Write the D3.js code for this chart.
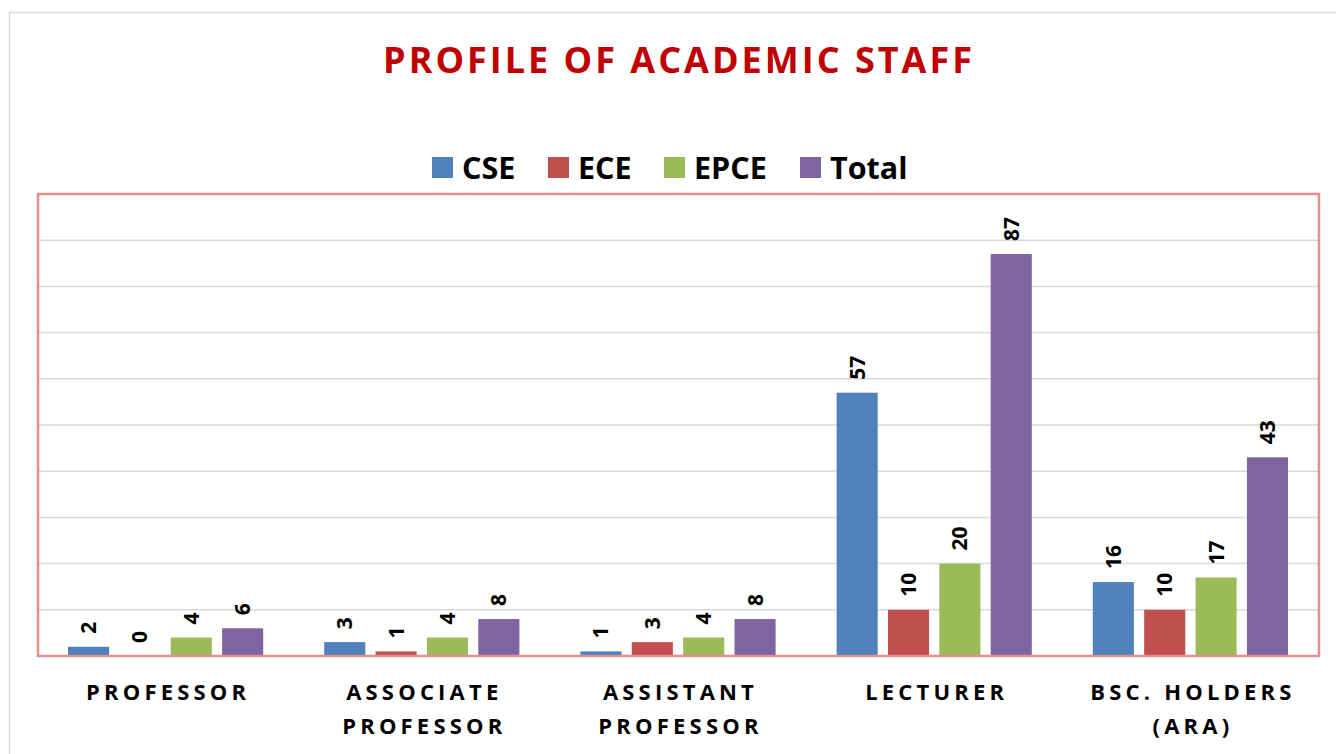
<!DOCTYPE html>
<html><head><meta charset="utf-8">
<script src="https://cdn.jsdelivr.net/npm/d3@7/dist/d3.min.js"></script>
<style>body{margin:0;background:#fff}svg{display:block}text{font-family:"Open Sans",sans-serif}</style>
</head><body><svg id="c" width="1336" height="754"></svg>
<script>
const categories = [["PROFESSOR"],["ASSOCIATE","PROFESSOR"],["ASSISTANT","PROFESSOR"],["LECTURER"],["BSC. HOLDERS","(ARA)"]];
const series = ["CSE","ECE","EPCE","Total"];
const cse = [2,3,1,57,16];
const ece = [0,1,3,10,10];
const epce = [4,4,4,20,17];
const total = [6,8,8,87,43];
const yTicks = [0,10,20,30,40,50,60,70,80,90,100];
const colors = ["#4F81BD","#C0504D","#9BBB59","#8064A2"];
const values = [cse, ece, epce, total];

const svg = d3.select("#c");
const L = 38, R = 1319, T = 194, B = 656;
svg.append("rect").attr("x",9.5).attr("y",12.5).attr("width",1340).attr("height",760).attr("fill","none").attr("stroke","#d9d9d9").attr("stroke-width",1.5);

const x0 = d3.scaleBand().domain(d3.range(categories.length)).range([L,R]).paddingInner(0).paddingOuter(0);
const x1 = d3.scaleBand().domain(series).range([30, x0.bandwidth()-31]).paddingInner(0.2).paddingOuter(0);
const y = d3.scaleLinear().domain([0,100]).range([B,T]);

// gridlines
svg.append("g").selectAll("line").data(yTicks.slice(1,-1)).join("line")
  .attr("x1",L).attr("x2",R).attr("y1",d=>y(d)).attr("y2",d=>y(d))
  .attr("stroke","#d9d9d9").attr("stroke-width",1.5);

// bars
const g = svg.append("g");
categories.forEach((c,i)=>{
  series.forEach((s,j)=>{
    const v = values[j][i];
    const bx = x0(i)+x1(s);
    if (v>0) g.append("rect").attr("x",bx).attr("y",y(v)).attr("width",x1.bandwidth()).attr("height",B-y(v)).attr("fill",colors[j]);
    g.append("text").attr("transform",`translate(${bx+x1.bandwidth()/2+7.5},${y(v)-13}) rotate(-90)`)
      .attr("font-size",21).attr("font-weight",700).attr("fill","#000").text(v);
  });
});

// plot border
svg.append("rect").attr("x",L).attr("y",T).attr("width",R-L).attr("height",B-T)
  .attr("fill","none").attr("stroke","#e38f8f").attr("stroke-width",2.5);

// category labels
categories.forEach((c,i)=>{
  const t = svg.append("text").attr("text-anchor","middle").attr("font-size",22).attr("font-weight",700)
    .attr("letter-spacing",4.2).attr("fill","#000");
  c.forEach((line,k)=>{
    t.append("tspan").attr("x",x0(i)+x0.bandwidth()/2+2).attr("y",700+k*34).text(line);
  });
});

// title
svg.append("text").attr("x",679).attr("y",73).attr("text-anchor","middle").attr("font-size",36)
  .attr("font-weight",700).attr("letter-spacing",3).attr("fill","#C00000").text("PROFILE OF ACADEMIC STAFF");

// legend
const legX = [432,548,664,800];
series.forEach((s,j)=>{
  svg.append("rect").attr("x",legX[j]).attr("y",157).attr("width",21).attr("height",21).attr("fill",colors[j]);
  svg.append("text").attr("x",legX[j]+30).attr("y",179).attr("font-size",30.5).attr("font-weight",700).attr("fill","#000").text(s);
});
</script></body></html>
